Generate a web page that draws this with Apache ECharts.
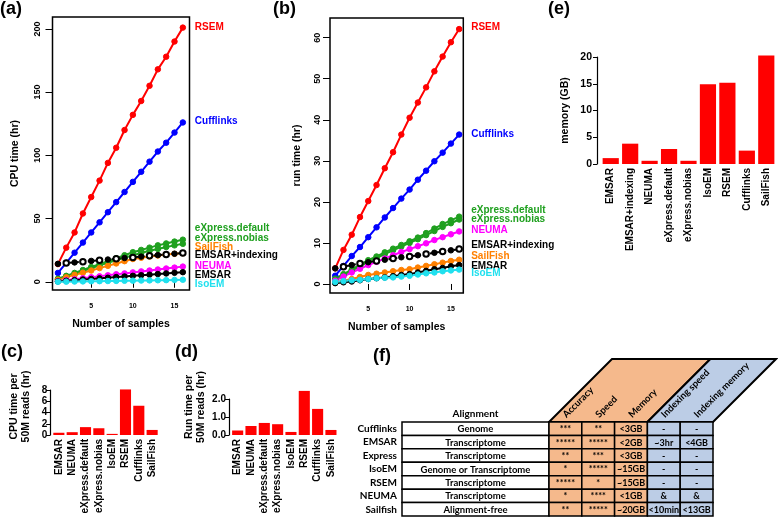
<!DOCTYPE html>
<html><head><meta charset="utf-8">
<script src="https://cdn.jsdelivr.net/npm/echarts@6/dist/echarts.min.js"></script>
<style>html,body{margin:0;padding:0;background:#fff}#c{width:778px;height:519px}</style>
</head><body><div id="c"></div>
<script>
// ---------- data ----------
const samples = [1,2,3,4,5,6,7,8,9,10,11,12,13,14,15,16];
const methods = ['RSEM','Cufflinks','eXpress.default','eXpress.nobias','SailFish','EMSAR+indexing','NEUMA','EMSAR','IsoEM'];

// (a) CPU time (hr)
const cpuRSEM      = [14,27,39,54,67,80,94,106,120,132,143,155,168,178,190,201];
const cpuCufflinks = [7,15,23,31,39,47,55,63,71,79,87,95,103,110,118,126];
const cpuExpDef    = [2.4,4.7,7,9.3,11.7,14,16.3,18.6,21,23.4,25.2,27,28.8,30.3,31.8,33.3];
const cpuExpNob    = [1.8,4,6.2,8.5,10.7,13,15,17,19,21,22.8,24.5,26,27.5,28.8,30];
const cpuSailFish  = [1.5,3.5,5.5,7.2,8.9,10.8,12.6,14.5,16.3,18,19,20,20.8,21.5,22.1,22.6];
const cpuEmsarIdx  = [14.2,14.8,15.3,15.9,16.5,17,17.6,18.2,18.8,19.3,19.9,20.5,21.1,21.6,22.2,22.8];
const cpuNEUMA     = [0.5,1.3,2,2.8,3.6,4.3,5.1,5.9,6.6,7.4,8.2,8.9,9.7,10.5,11.2,12];
const cpuEMSAR     = [0.3,0.8,1.3,1.8,2.2,2.7,3.2,3.7,4.2,4.7,5.2,5.6,6.1,6.6,7.1,7.6];
const cpuIsoEM     = [0,0.1,0.2,0.3,0.4,0.5,0.6,0.7,0.8,0.9,1,1.1,1.2,1.3,1.45,1.6];

// (b) run time (hr)
const runRSEM      = [3.8,8.3,12,16.3,20.2,24.1,28.2,32.1,36.4,40.5,44.2,47.9,51.8,55.4,58.9,62.1];
const runCufflinks = [2,4.4,6.8,9,11.4,13.8,16.2,18.5,20.8,23,25.4,27.6,29.9,32,34.2,36.4];
const runExpDef    = [1.3,2.4,3.5,4.7,5.8,6.7,7.7,8.6,9.5,10.4,11.3,12.4,13.5,14.6,15.5,16.4];
const runExpNob    = [1.0,2.1,3.2,4.3,5.4,6.3,7.3,8.2,9.1,10,10.9,11.9,12.9,13.9,14.8,15.7];
const runNEUMA     = [0.8,1.8,2.8,3.7,4.6,5.4,6.2,7,7.8,8.5,9.2,9.9,10.7,11.4,12.1,12.8];
const runEmsarIdx  = [3.8,4.2,4.6,5,5.3,5.6,5.9,6.2,6.5,6.7,7,7.3,7.6,7.9,8.2,8.5];
const runSailFish  = [0.4,0.8,1.2,1.7,2.2,2.5,2.8,3.1,3.4,3.6,4,4.4,4.8,5.2,5.6,5.9];
const runEMSAR     = [0.2,0.4,0.6,0.9,1.2,1.4,1.6,1.9,2.2,2.4,2.8,3.2,3.6,3.9,4.3,4.6];
const runIsoEM     = [0.5,0.7,0.9,1.0,1.2,1.4,1.5,1.6,1.8,2.0,2.3,2.6,2.8,3.1,3.3,3.5];

// (e) memory
const memCats   = ['EMSAR','EMSAR+indexing','NEUMA','eXpress.default','eXpress.nobias','IsoEM','RSEM','Cufflinks','SailFish'];
const memValues = [1.1,3.8,0.6,2.8,0.6,14.9,15.2,2.5,20.3];

// (c)/(d) per 50M reads
const perCats   = ['EMSAR','NEUMA','eXpress.default','eXpress.nobias','IsoEM','RSEM','Cufflinks','SailFish'];
const cpuPer50M = [0.4,0.5,1.4,1.2,0.2,8.1,5.2,0.9];
const runPer50M = [0.25,0.5,0.67,0.6,0.17,2.45,1.45,0.28];

// (f) table
const tableRows   = ['Cufflinks','EMSAR','Express','IsoEM','RSEM','NEUMA','Sailfish'];
const alignment   = ['Genome','Transcriptome','Transcriptome','Genome or Transcriptome','Transcriptome','Transcriptome','Alignment-free'];
const ratingCols  = ['Accuracy','Speed','Memory','Indexing speed','Indexing memory'];
const accuracy    = ['***','*****','**','*','*****','*','**'];
const speed       = ['**','*****','***','*****','*','****','*****'];
const memoryCol   = ['<3GB','<2GB','<3GB','~15GB','~15GB','<1GB','~20GB'];
const indexSpeed  = ['-','~3hr','-','-','-','&','<10min'];
const indexMemory = ['-','<4GB','-','-','-','&','<13GB'];
const xTicks = [5,10,15];

// ---------- styles ----------
const SANS = 'Liberation Sans, Arial, sans-serif';
const TAB = 'Lato, Open Sans, sans-serif';
const colors = {RSEM:'#ff0000',Cufflinks:'#0000ff','eXpress.default':'#1fa01f','eXpress.nobias':'#1fa01f',
  SailFish:'#ff8000','EMSAR+indexing':'#000000',NEUMA:'#ff00ff',EMSAR:'#000000',IsoEM:'#20e0ee'};
const cpuSets = [cpuRSEM,cpuCufflinks,cpuExpDef,cpuExpNob,cpuSailFish,cpuEmsarIdx,cpuNEUMA,cpuEMSAR,cpuIsoEM];
const runSets = [runRSEM,runCufflinks,runExpDef,runExpNob,runSailFish,runEmsarIdx,runNEUMA,runEMSAR,runIsoEM];
const cpuLabelDy = [0,-1,-11,-6,-6,2,0,3,4];
const runLabelDy = {RSEM:-2,Cufflinks:0,'eXpress.default':-6,'eXpress.nobias':0,NEUMA:-1,'EMSAR+indexing':-4,SailFish:-4,EMSAR:1,IsoEM:4};
const ORANGE = '#f5b98c', BLUE = '#bccde6';

function lineSeries(name, vals, gi, dy) {
  const dashed = name === 'EMSAR+indexing';
  return {
    type:'line', name, xAxisIndex:gi, yAxisIndex:gi,
    data: samples.map((s,i)=>[s, vals[i]]),
    symbol: dashed ? (v,p)=> (p.dataIndex%2 ? 'emptyCircle':'circle') : 'circle',
    symbolSize: 5.5,
    lineStyle:{color:colors[name], width:2, type: dashed ? [3,3] : 'solid'},
    itemStyle:{color:colors[name], borderColor:colors[name]},
    endLabel:{show:true, formatter:'{a}', color:colors[name], fontFamily:SANS, fontSize:10, fontWeight:'bold', distance:12, offset:[0,dy]},
    animation:false, z: dashed ? 3 : 2
  };
}

const series = [];
methods.forEach((m,i)=>series.push(lineSeries(m, cpuSets[i], 0, cpuLabelDy[i])));
methods.forEach((m,i)=>series.push(lineSeries(m, runSets[i], 1, runLabelDy[m])));

series.push({type:'bar', xAxisIndex:2, yAxisIndex:2, data:memValues, itemStyle:{color:'#ff0000'}, barCategoryGap:'16.7%', clip:false});
series.push({type:'bar', xAxisIndex:3, yAxisIndex:3, data:cpuPer50M, itemStyle:{color:'#ff0000'}, barCategoryGap:'16.7%', clip:false});
series.push({type:'bar', xAxisIndex:4, yAxisIndex:4, data:runPer50M, itemStyle:{color:'#ff0000'}, barCategoryGap:'16.7%', clip:false});

// table: alignment column
series.push({type:'custom', xAxisIndex:5, yAxisIndex:5, clip:false,
  data: tableRows.map((r,i)=>[0,i]),
  renderItem:(p,api)=>{
    const c = api.coord([api.value(0), api.value(1)]); const s = api.size([1,1]);
    return {type:'group', children:[
      {type:'rect', shape:{x:c[0]-s[0]/2, y:c[1]-s[1]/2, width:s[0], height:s[1]}, style:{fill:'#fff', stroke:'#000', lineWidth:1.5}},
      {type:'text', x:c[0], y:c[1]+0.5, style:{text:alignment[api.value(1)], align:'center', verticalAlign:'middle', font:'bold 9.5px '+TAB, fill:'#000'}}
    ]};
  }});
// table header parallelograms
series.push({type:'custom', xAxisIndex:6, yAxisIndex:6, clip:false, z:1,
  data: [[0,2],[3,4]],
  renderItem:(p,api)=>{
    const a = api.coord([api.value(0),0]); const b = api.coord([api.value(1),0]); const s = api.size([1,1]);
    const x0 = a[0]-s[0]/2, x1 = b[0]+s[0]/2, y0 = a[1]-s[1]/2, h = 63;
    return {type:'polygon', shape:{points:[[x0,y0],[x1,y0],[x1+h,y0-h],[x0+h,y0-h]]},
      style:{fill: p.dataIndex===0 ? ORANGE : BLUE, stroke:'#000', lineWidth:2}};
  }});
// table header labels (rotated 45°)
series.push({type:'custom', xAxisIndex:6, yAxisIndex:6, clip:false, z:3,
  data: ratingCols.map((c,i)=>[i,0]),
  renderItem:(p,api)=>{
    const c = api.coord([api.value(0),0]); const s = api.size([1,1]);
    return {type:'text', x:c[0]-1, y:c[1]-s[1]/2-6, rotation:Math.PI/4,
      style:{text:ratingCols[api.value(0)], align:'left', verticalAlign:'middle', font:'bold 9.5px '+TAB, fill:'#000'}};
  }});
// table rating cells
const ratingData = [];
const ratingSets = [accuracy,speed,memoryCol,indexSpeed,indexMemory];
ratingSets.forEach((col,ci)=>col.forEach((v,ri)=>ratingData.push([ci,ri])));
series.push({type:'custom', xAxisIndex:6, yAxisIndex:6, clip:false, z:2,
  data: ratingData,
  renderItem:(p,api)=>{
    const ci = api.value(0), ri = api.value(1);
    const c = api.coord([ci, ri]); const s = api.size([1,1]);
    return {type:'group', children:[
      {type:'rect', shape:{x:c[0]-s[0]/2, y:c[1]-s[1]/2, width:s[0], height:s[1]}, style:{fill: ci<3 ? ORANGE : BLUE, stroke:'#000', lineWidth:1.5}},
      {type:'text', x:c[0], y:c[1]+0.5, style:{text:ratingSets[ci][ri], align:'center', verticalAlign:'middle', font:'bold 9px '+TAB, fill:'#000'}}
    ]};
  }});

const blk = {color:'#000'};
function lineAxisX(gi, min, max) {
  return {type:'value', gridIndex:gi, min, max, name:'Number of samples', nameLocation:'middle', nameGap:29,
    nameTextStyle:{fontFamily:SANS, fontSize:10.5, fontWeight:'bold', color:'#000'},
    axisLine:{show:false}, splitLine:{show:false},
    axisTick:{show:true, length:6, lineStyle:blk, customValues:xTicks},
    axisLabel:{fontFamily:SANS, fontSize:7, fontWeight:'bold', color:'#000', margin:13, customValues:xTicks}};
}
function lineAxisY(gi, min, max, ticks, name, gap, margin) {
  return {type:'value', gridIndex:gi, min, max, name, nameLocation:'middle', nameGap:gap, nameRotate:90,
    nameTextStyle:{fontFamily:SANS, fontSize:10.5, fontWeight:'bold', color:'#000'},
    axisLine:{show:false}, splitLine:{show:false},
    axisTick:{show:true, length:7, lineStyle:blk, customValues:ticks},
    axisLabel:{fontFamily:SANS, fontSize:9, fontWeight:'bold', color:'#000', rotate:90, margin, customValues:ticks}};
}
function barX(gi, cats) {
  return {type:'category', gridIndex:gi, data:cats, axisLine:{show:false}, axisTick:{show:false},
    axisLabel:{rotate:90, fontFamily:SANS, fontSize:10, fontWeight:'bold', color:'#000', margin:4, interval:0}};
}
function barY(gi, max, interval, name, gap, fmt, pad) {
  return {type:'value', gridIndex:gi, min:0, max, interval, offset:2, name, nameLocation:'middle', nameGap:gap, nameRotate:90,
    nameTextStyle:{fontFamily:SANS, fontSize:10.5, fontWeight:'bold', color:'#000', lineHeight:12, padding:pad},
    axisLine:{show:true, lineStyle:{color:'#000', width:1.2}}, splitLine:{show:false},
    axisTick:{show:true, length:4, lineStyle:blk},
    axisLabel:{fontFamily:SANS, fontSize:10, fontWeight:'bold', color:'#000', margin:3, formatter:fmt}};
}

const option = {
  animation:false,
  backgroundColor:'#fff',
  title:[
    {text:'(a)', left:0, top:0},
    {text:'(b)', left:273, top:0},
    {text:'(e)', left:548, top:0},
    {text:'(c)', left:1, top:343},
    {text:'(d)', left:175, top:343},
    {text:'(f)', left:373, top:347}
  ].map(t=>Object.assign(t,{padding:0, textStyle:{fontFamily:SANS, fontSize:18, fontWeight:'bold', color:'#000'}})),
  grid:[
    {left:52.5, top:17, width:137, height:273, show:true, borderColor:'#000', borderWidth:1.5, backgroundColor:'transparent'},
    {left:330, top:18, width:133.3, height:275, show:true, borderColor:'#000', borderWidth:1.5, backgroundColor:'transparent'},
    {left:601, top:57, width:175, height:107},
    {left:52.2, top:390, width:106.6, height:45},
    {left:231, top:399, width:106.6, height:36},
    {left:402, top:422, width:147, height:94},
    {left:549, top:422, width:164, height:94}
  ],
  xAxis:[
    lineAxisX(0, 0.35, 16.8),
    lineAxisX(1, 0.37, 16.5),
    barX(2, memCats),
    barX(3, perCats),
    barX(4, perCats),
    {type:'category', gridIndex:5, data:['Alignment'], position:'top', axisLine:{show:false}, axisTick:{show:false},
      axisLabel:{fontFamily:TAB, fontSize:10, fontWeight:'bold', color:'#000', margin:3}},
    {type:'category', gridIndex:6, data:ratingCols, position:'top', axisLine:{show:false}, axisTick:{show:false}, axisLabel:{show:false}}
  ],
  yAxis:[
    lineAxisY(0, -6.5, 209.4, [0,50,100,150,200], 'CPU time (hr)', 31.5, 10),
    lineAxisY(1, -2.2, 64.8, [0,10,20,30,40,50,60], 'run time (hr)', 27, 8),
    Object.assign(barY(2, 20, 5, 'memory (GB)', 26, null, [0,0,0,0]), {offset:4, axisLabel:{fontFamily:SANS, fontSize:10.5, fontWeight:'bold', color:'#000', margin:5}}),
    barY(3, 8, 2, 'CPU time per\n50M reads (hr)', 18, null, [0,0,0,12]),
    barY(4, 2, 1, 'Run time per\n50M reads (hr)', 22, v=>v.toFixed(1), [0,0,0,20]),
    {type:'category', gridIndex:5, data:tableRows, inverse:true, axisLine:{show:false}, axisTick:{show:false},
      axisLabel:{fontFamily:TAB, fontSize:10, fontWeight:'bold', color:'#000', margin:5}},
    {type:'category', gridIndex:6, data:tableRows, inverse:true, show:false}
  ],
  series
};
const chart = echarts.init(document.getElementById('c'), null, {renderer:'canvas'});
chart.setOption(option);
</script></body></html>
